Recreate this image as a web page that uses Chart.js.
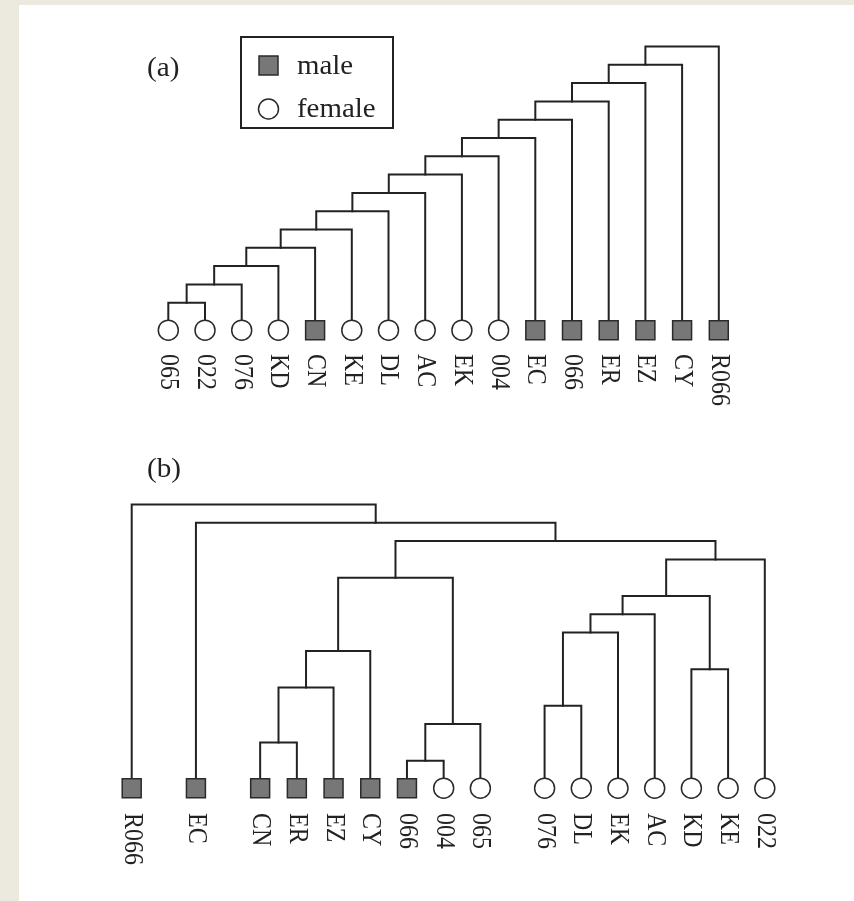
<!DOCTYPE html>
<html><head><meta charset="utf-8">
<script src="https://cdn.jsdelivr.net/npm/chart.js@4.4.0/dist/chart.umd.min.js"></script>
<style>
html,body{margin:0;padding:0;background:#ece9df;width:854px;height:901px;overflow:hidden;}
#page{position:absolute;left:19px;top:5px;width:835px;height:896px;background:#fff;}
.wrap{position:absolute;left:0;width:854px;}
#wa{top:0;height:450px;} #wb{top:450px;height:451px;}
canvas{display:block;}
</style></head><body>
<div id="page"></div>
<div class="wrap" id="wa"><canvas id="ca" width="854" height="450"></canvas></div>
<div class="wrap" id="wb"><canvas id="cb" width="854" height="451"></canvas></div>
<script>
// ---------- Panel (a) data ----------
const leavesA = ['065','022','076','KD','CN','KE','DL','AC','EK','004','EC','066','ER','EZ','CY','R066'];
const sexA    = ['F','F','F','F','M','F','F','F','F','F','M','M','M','M','M','M'];
const posA    = [0,1,2,3,4,5,6,7,8,9,10,11,12,13,14,15];
// merges: ids < 16 are leaves, id 16+k is the k-th merge
const mergeLeftA  = [0,16,17,18,19,20,21,22,23,24,25,26,27,28,29];
const mergeRightA = [1,2,3,4,5,6,7,8,9,10,11,12,13,14,15];
const heightsA    = [1,2,3,4,5,6,7,8,9,10,11,12,13,14,15];

// ---------- Panel (b) data ----------
const leavesB = ['R066','EC','CN','ER','EZ','CY','066','004','065','076','DL','EK','AC','KD','KE','022'];
const sexB    = ['M','M','M','M','M','M','M','F','F','F','F','F','F','F','F','F'];
const posB    = [0,1.75,3.5,4.5,5.5,6.5,7.5,8.5,9.5,11.25,12.25,13.25,14.25,15.25,16.25,17.25];
const mergeLeftB  = [6,2,16,9,17,13,20,19,23,24,22,25,26,1,0];
const mergeRightB = [7,3,8,10,4,14,5,11,12,21,18,15,27,28,29];
const heightsB    = [1,2,3,4,5,6,7,8,9,10,11,12,13,14,15];

const legendNames = ['male','female'];
const panelTags = ['(a)','(b)'];

const LINE = '#222';
const MALE_FILL = '#777';
const FEMALE_FILL = '#fff';
const SYM_EDGE = '#2a2a2a';
const TEXT = '#222';
const SERIF = '"Liberation Serif","DejaVu Serif",serif';
const SYM_Y = -0.5; // symbol centre, just below leaf tips

function buildDatasets(pos, left, right, heights, sex){
  const n = pos.length;
  const nodeX = pos.slice(), nodeH = new Array(n).fill(0);
  const ds = [];
  for(let k=0;k<left.length;k++){
    const a = left[k], b = right[k], h = heights[k];
    ds.push({
      type:'scatter', showLine:true, order:2,
      data:[{x:nodeX[a],y:nodeH[a]},{x:nodeX[a],y:h},{x:nodeX[b],y:h},{x:nodeX[b],y:nodeH[b]}],
      borderColor:LINE, borderWidth:2, pointRadius:0, tension:0, fill:false,
      borderCapStyle:'square', borderJoinStyle:'miter', clip:false
    });
    nodeX.push((nodeX[a]+nodeX[b])/2); nodeH.push(h);
  }
  const males = [], females = [];
  pos.forEach((p,i)=>{ (sex[i]==='M'?males:females).push({x:p,y:SYM_Y}); });
  ds.push({type:'scatter', label:legendNames[0], order:0, data:males, pointStyle:'rect',
    pointRadius:13.4, backgroundColor:MALE_FILL, borderColor:SYM_EDGE, borderWidth:1.5, clip:false});
  ds.push({type:'scatter', label:legendNames[1], order:0, data:females, pointStyle:'circle',
    pointRadius:10, backgroundColor:FEMALE_FILL, borderColor:SYM_EDGE, borderWidth:1.5, clip:false});
  return ds;
}

const decor = {
  id:'decor',
  afterDraw(chart, args, o){
    const {ctx} = chart; const xs = chart.scales.x, ys = chart.scales.y;
    ctx.save();
    ctx.fillStyle = TEXT;
    ctx.font = o.labelFont;
    ctx.textAlign = 'left'; ctx.textBaseline = 'middle';
    const y0 = ys.getPixelForValue(0) + o.labelGap;
    o.labels.forEach((lab,i)=>{
      ctx.save();
      ctx.translate(xs.getPixelForValue(o.positions[i]), y0);
      ctx.rotate(Math.PI/2);
      ctx.scale(1, 1.12);
      ctx.fillText(lab,0,0);
      ctx.restore();
    });
    // panel tag
    ctx.font = o.tagFont; ctx.textBaseline = 'alphabetic';
    ctx.save(); ctx.translate(o.tagX, o.tagY); ctx.scale(1.08,1); ctx.fillText(o.tag, 0, 0); ctx.restore();
    // legend box
    if(o.legend){
      const L = o.legend;
      ctx.strokeStyle = '#222'; ctx.lineWidth = 2;
      ctx.strokeRect(L.x, L.y, L.w, L.h);
      const dsets = chart.data.datasets.filter(d=>d.label);
      dsets.forEach((d,i)=>{
        const cy = L.rowY[i];
        ctx.lineWidth = 1.5; ctx.strokeStyle = SYM_EDGE; ctx.fillStyle = d.backgroundColor;
        if(d.pointStyle==='rect'){
          ctx.fillRect(L.symX-9.5, cy-9.5, 19, 19); ctx.strokeRect(L.symX-9.5, cy-9.5, 19, 19);
        } else {
          ctx.beginPath(); ctx.arc(L.symX, cy, 10, 0, Math.PI*2); ctx.fill(); ctx.stroke();
        }
        ctx.fillStyle = TEXT; ctx.font = o.tagFont; ctx.textBaseline='alphabetic';
        ctx.save(); ctx.translate(L.textX, cy + L.baseOff); ctx.scale(1.07,1);
        ctx.fillText(d.label, 0, 0); ctx.restore();
      });
    }
    ctx.restore();
  }
};

function makeChart(id, pos, left, right, heights, sex, labels, pad, xmax, decorOpts){
  return new Chart(document.getElementById(id), {
    type:'scatter',
    data:{datasets: buildDatasets(pos,left,right,heights,sex)},
    options:{
      responsive:false, animation:false, devicePixelRatio:1,
      layout:{padding:pad},
      scales:{
        x:{type:'linear', display:false, min:0, max:xmax},
        y:{type:'linear', display:false, min:0, max:15}
      },
      plugins:{legend:{display:false}, tooltip:{enabled:false},
        decor: Object.assign({labels:labels, positions:pos}, decorOpts)}
    },
    plugins:[decor]
  });
}

makeChart('ca', posA, mergeLeftA, mergeRightA, heightsA, sexA, leavesA,
  {left:168.3, right:135.2, top:46.5, bottom:129}, 15,
  {labelFont:'24px '+SERIF, labelGap:33, tagFont:'27px '+SERIF, tag:panelTags[0], tagX:147, tagY:76,
   legend:{x:241, y:37, w:152, h:91, symX:268.5, rowY:[65.5,109], textX:297, baseOff:8}});

makeChart('cb', posB, mergeLeftB, mergeRightB, heightsB, sexB, leavesB,
  {left:131.7, right:89.2, top:54.5, bottom:122}, 17.25,
  {labelFont:'24px '+SERIF, labelGap:34, tagFont:'27px '+SERIF, tag:panelTags[1], tagX:147, tagY:27});
</script>
</body></html>
